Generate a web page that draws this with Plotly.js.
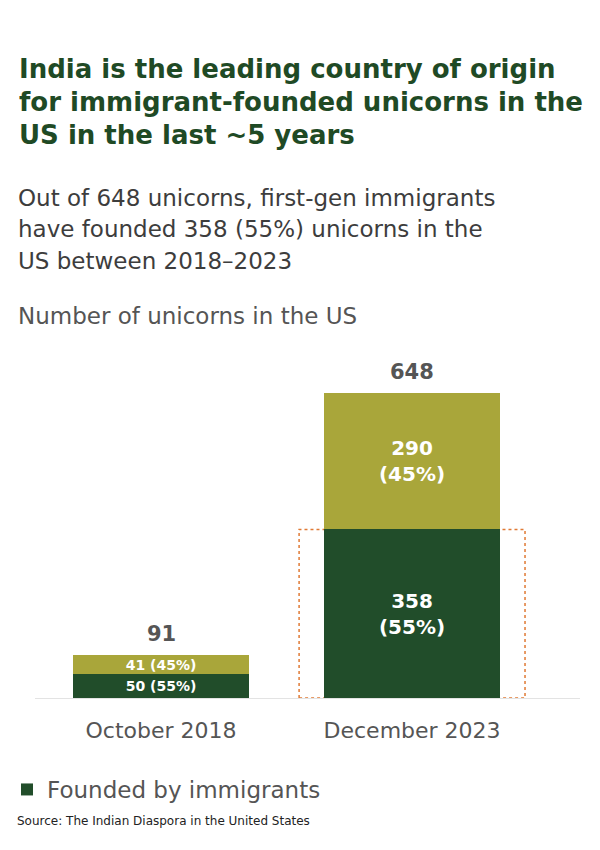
<!DOCTYPE html>
<html>
<head>
<meta charset="utf-8">
<script src="https://cdn.plot.ly/plotly-3.0.1.min.js"></script>
<style>html,body{margin:0;padding:0;background:#fff;}#chart{width:600px;height:850px;}</style>
</head>
<body>
<div id="chart"></div>
<script>
var categories = ["October 2018", "December 2023"];
var foundedByImmigrants = [50, 358];
var otherFounders = [41, 290];
var seriesNames = ["Founded by immigrants", "Other"];

var totals = categories.map(function (c, i) { return foundedByImmigrants[i] + otherFounders[i]; });
function pct(v, i) { return Math.round(v / totals[i] * 100); }
function label(v, i) { return v + (i === 0 ? " " : "<br>") + "(" + pct(v, i) + "%)"; }

var FONT = "DejaVu Sans, sans-serif";
var DARK = "#214d2a", OLIVE = "#a9a63a";

var labelFont = { family: FONT, size: [14, 20], color: "#ffffff", weight: "bold" };

var traces = [
  {
    type: "bar", name: seriesNames[0], x: categories, y: foundedByImmigrants,
    marker: { color: DARK, line: { width: 0 } },
    text: foundedByImmigrants.map(label), textposition: "inside", insidetextanchor: "middle",
    constraintext: "none", textfont: labelFont, width: 0.7, hoverinfo: "skip", showlegend: true
  },
  {
    type: "bar", name: seriesNames[1], x: categories, y: otherFounders,
    marker: { color: OLIVE, line: { width: 0 } },
    text: otherFounders.map(label), textposition: "inside", insidetextanchor: "middle",
    constraintext: "none", textfont: labelFont, width: 0.7, hoverinfo: "skip", showlegend: false
  }
];

function py(px) { return 1 - px / 850; }
function px(x) { return x / 600; }

var annotations = [];
function txt(t, x, y, size, color, bold) {
  annotations.push({ xref: "paper", yref: "paper", x: px(x), y: py(y), xanchor: "left", yanchor: "middle",
    showarrow: false, text: t, font: { family: FONT, size: size, color: color, weight: bold ? "bold" : "normal" } });
}
txt("India is the leading country of origin", 17, 69, 26, "#1f4a25", true);
txt("for immigrant-founded unicorns in the", 17, 102, 26, "#1f4a25", true);
txt("US in the last ~5 years", 17, 135, 26, "#1f4a25", true);
txt("Out of 648 unicorns, first-gen immigrants", 16, 198, 23, "#3d3d3d", false);
txt("have founded 358 (55%) unicorns in the", 16, 229, 23, "#3d3d3d", false);
txt("US between 2018\u20132023", 16, 261, 23, "#3d3d3d", false);
txt("Number of unicorns in the US", 16, 316, 23, "#555555", false);
txt("Source: The Indian Diaspora in the United States", 15, 821, 12, "#222222", false);

categories.forEach(function (c, i) {
  annotations.push({ xref: "x", yref: "y", x: c, y: totals[i], yanchor: "bottom", yshift: 7,
    showarrow: false, text: String(totals[i]),
    font: { family: FONT, size: 21, color: "#555555", weight: "bold" } });
});

var layout = {
  width: 600, height: 850,
  margin: { l: 0, r: 0, t: 0, b: 0 },
  paper_bgcolor: "#ffffff", plot_bgcolor: "#ffffff",
  barmode: "stack",
  xaxis: {
    domain: [px(35), px(580)], range: [-0.502, 1.669], type: "category",
    showline: true, linecolor: "#e3e3e3", linewidth: 1, showgrid: false, zeroline: false,
    ticks: "", ticklabelstandoff: 13,
    tickfont: { family: FONT, size: 22, color: "#555555" }
  },
  yaxis: {
    domain: [py(698), py(360)], range: [0, 718], visible: false, fixedrange: true
  },
  showlegend: true,
  legend: {
    orientation: "h", x: px(7), y: py(768), xanchor: "left", yanchor: "top",
    font: { family: FONT, size: 23, color: "#555555" }, bgcolor: "rgba(0,0,0,0)"
  },
  shapes: [{
    type: "rect", xref: "x", yref: "y", x0: 1 - 0.45, x1: 1 + 0.45, y0: 0, y1: foundedByImmigrants[1],
    line: { color: "#e07a35", width: 1.5, dash: "dot" }, fillcolor: "rgba(0,0,0,0)", layer: "below"
  }],
  annotations: annotations
};

Plotly.newPlot("chart", traces, layout, { displayModeBar: false, staticPlot: true });
</script>
</body>
</html>
